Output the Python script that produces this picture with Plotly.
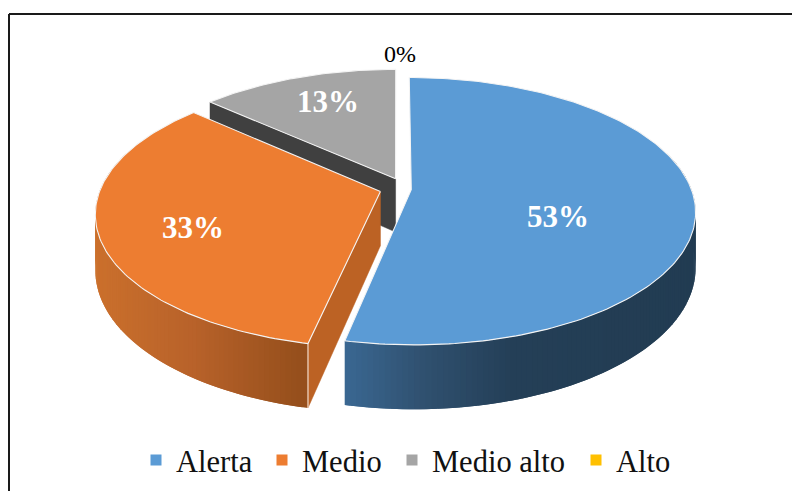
import math
import plotly.graph_objects as go

# --- data ---
categories = ["Alerta", "Medio", "Medio alto", "Alto"]
values = [8, 5, 2, 0]
colors = ["#5b9bd5", "#ed7d31", "#a5a5a5", "#ffc000"]

# --- styling / projection of the tilted pie ---
W, H = 792, 491
CX, CY, RX, RY, K, DEPTH = 396.7, 189.0, 280.0, 130.0, 0.161, 54.0
explode = [(0.052, 0.005), (-0.058, 0.02), (-0.004, -0.08), (0, 0)]
cut_colors = [None, "#bc6224", "#404040", None]
wall_stops = [
    [(345, "#3b6a96"), (430, "#305170"), (520, "#243f57"), (700, "#223c52")],
    [(97, "#cb702c"), (200, "#b8622a"), (307, "#964f1c")],
    [(0, "#6a6a6a"), (800, "#6a6a6a")],
    [(0, "#a08000"), (800, "#a08000")],
]
label_pos = [(558, 216), (193, 227), (328, 101), (400, 54)]
label_style = [("white", 31, True), ("white", 31, True), ("white", 31, True), ("black", 24, False)]
legend_text_left = [176, 302, 432, 616]
SERIF = "Liberation Serif"


def project(X, Z, lift=0.0):
    w = 1.0 / (1.0 - K * Z)
    return CX + RX * X * w, CY + RY * Z * w + lift * w


def rim(t_deg, off, lift=0.0):
    t = math.radians(t_deg)
    return project(math.sin(t) + off[0], -math.cos(t) + off[1], lift)


def mix(stops, x):
    if x <= stops[0][0]:
        c = stops[0][1]
        return c
    for (x0, c0), (x1, c1) in zip(stops, stops[1:]):
        if x <= x1:
            f = (x - x0) / (x1 - x0)
            a = [int(c0[i:i + 2], 16) for i in (1, 3, 5)]
            b = [int(c1[i:i + 2], 16) for i in (1, 3, 5)]
            return "#%02x%02x%02x" % tuple(round(p + (q - p) * f) for p, q in zip(a, b))
    return stops[-1][1]


def poly(points, fill, line=None, width=1.0):
    xs = [p[0] for p in points] + [points[0][0]]
    ys = [p[1] for p in points] + [points[0][1]]
    return go.Scatter(x=xs, y=ys, mode="lines", fill="toself", fillcolor=fill,
                      line=dict(color=line or fill, width=width),
                      hoverinfo="skip", showlegend=False)


total = sum(values)
spans = []
start = 0.0
for v in values:
    end = start + 360.0 * v / total
    spans.append((start, end))
    start = end

fig = go.Figure()
for i in (2, 1, 0):  # back to front
    a, b = spans[i]
    off = explode[i]
    n = max(2, int((b - a) / 1.0))
    ts = [a + (b - a) * j / n for j in range(n + 1)]
    apex = project(off[0], off[1])
    apex_low = project(off[0], off[1], DEPTH)
    # outer wall: overlapping strips painted from the far end back to the cut edge
    for j in range(n - 1, -1, -1):
        t0, t1 = ts[j], ts[min(j + 2, n)]
        if -math.cos(math.radians(t0)) < -0.3:
            continue
        arc = [t0 + (t1 - t0) * s / 3 for s in range(4)]
        q = [rim(t, off) for t in arc] + [rim(t, off, DEPTH) for t in reversed(arc)]
        col = mix(wall_stops[i], rim(ts[j], off)[0])
        fig.add_trace(poly(q, col, width=0))
    # cut walls
    if i == 1:
        fig.add_trace(poly([apex, rim(a, off), rim(a, off, DEPTH), apex_low], cut_colors[1], width=0.5))
        c0, c1 = rim(a, off), rim(a, off, DEPTH)
        fig.add_trace(go.Scatter(x=[c0[0], c1[0]], y=[c0[1], c1[1]], mode="lines",
                                 line=dict(color="#f6e6da", width=1.1),
                                 hoverinfo="skip", showlegend=False))
    if i == 2:
        fig.add_trace(poly([apex, rim(a, off), rim(a, off, DEPTH), apex_low], cut_colors[2], width=0.5))
    # top face
    top = [apex] + [rim(t, off) for t in ts]
    fig.add_trace(poly(top, colors[i], line="#f4f4f4", width=1.1))

# legend entries, one native legend per category so each sits where the reference has it
legends = {}
for k, (name, col, left) in enumerate(zip(categories, colors, legend_text_left)):
    key = "legend" if k == 0 else f"legend{k + 1}"
    fig.add_trace(go.Scatter(x=[None], y=[None], mode="markers", name=name, legend=key,
                             marker=dict(symbol="square", size=11, color=col)))
    legends[key] = dict(x=(left - 40) / W, xanchor="left", y=0.009, yanchor="bottom",
                        font=dict(family=SERIF, size=30.5, color="#111111"),
                        bgcolor="rgba(0,0,0,0)", itemclick=False, itemdoubleclick=False)

# data labels
for v, (x, y), (col, size, bold) in zip(values, label_pos, label_style):
    fig.add_annotation(x=x, y=y, text=f"{round(100 * v / total)}%", showarrow=False,
                       font=dict(family=SERIF, size=size, color=col, weight="bold" if bold else "normal"))

# frame lines (top and left only)
fig.add_shape(type="line", x0=9, x1=W, y0=14, y1=14, line=dict(color="#1a1a1a", width=2))
fig.add_shape(type="line", x0=9, x1=9, y0=14, y1=H, line=dict(color="#1a1a1a", width=2))

fig.update_layout(
    width=W, height=H, margin=dict(l=0, r=0, t=0, b=0),
    paper_bgcolor="white", plot_bgcolor="white",
    xaxis=dict(range=[0, W], visible=False, fixedrange=True),
    yaxis=dict(range=[H, 0], visible=False, fixedrange=True),
    **legends,
)
fig.write_html("out.html", config=dict(displayModeBar=False),
               post_script="document.body.style.margin='0';document.documentElement.style.overflow='hidden';")
